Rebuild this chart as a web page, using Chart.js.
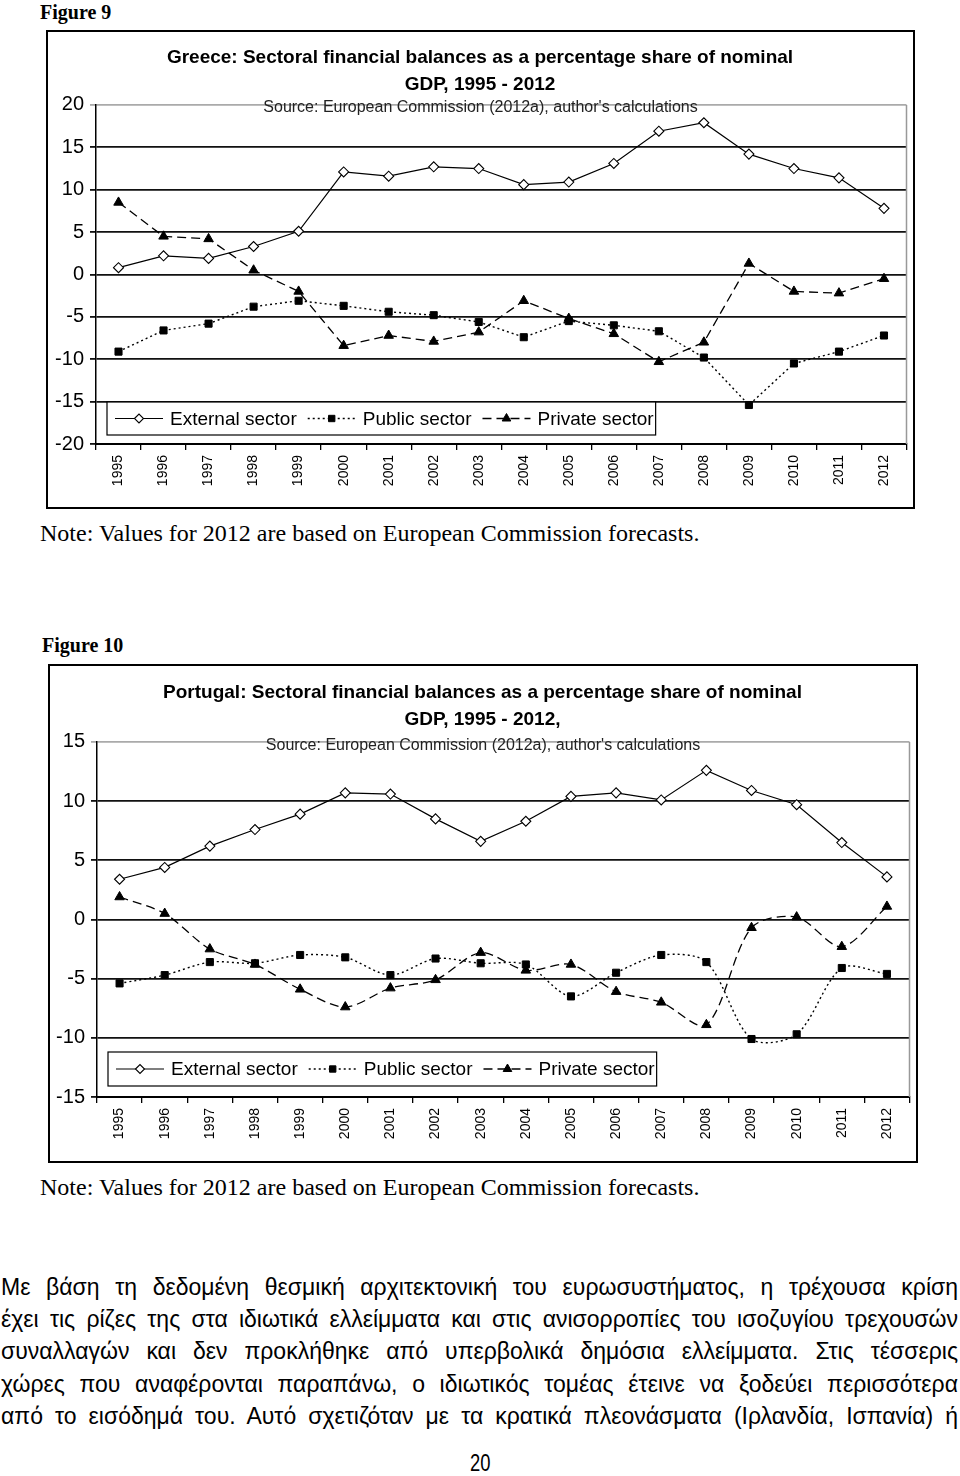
<!DOCTYPE html>
<html>
<head>
<meta charset="utf-8">
<script src="https://cdn.jsdelivr.net/npm/chart.js@4.4.0/dist/chart.umd.min.js"></script>
<style>
    body { margin: 0; width: 960px; height: 1476px; background: #fff; position: relative; overflow: hidden; }
    .fig { position: absolute; font-family: "Liberation Serif", "Times New Roman", serif; font-weight: bold; font-size: 20px; line-height: 24px; }
    .box { position: absolute; border: 2px solid #000; }
    .box canvas { display: block; }
    .note { position: absolute; font-family: "Liberation Serif", "Times New Roman", serif; font-size: 24px; line-height: 26px; white-space: nowrap; }
    .line { position: absolute; left: 1px; white-space: nowrap; font-family: "Liberation Sans", Arial, sans-serif; font-size: 23px; line-height: 26px; transform-origin: left center; }
    .page { position: absolute; left: 470px; font-family: "Liberation Sans", Arial, sans-serif; font-size: 23px; line-height: 26px; transform: scaleX(0.8); transform-origin: left center; }
</style>
</head>
<body>

<div class="fig" style="left:40px; top:0px;">Figure 9</div>
<div class="box" style="left:46px; top:30px; width:865px; height:475px;">
    <canvas id="greeceChart"></canvas>
</div>
<div class="note" style="left:40px; top:520px;">Note: Values for 2012 are based on European Commission forecasts.</div>

<div class="fig" style="left:42px; top:633px;">Figure 10</div>
<div class="box" style="left:48px; top:664px; width:866px; height:495px;">
    <canvas id="portugalChart"></canvas>
</div>
<div class="note" style="left:40px; top:1174px;">Note: Values for 2012 are based on European Commission forecasts.</div>

<div class="line" style="top:1274px;">Με βάση τη δεδομένη θεσμική αρχιτεκτονική του ευρωσυστήματος, η τρέχουσα κρίση</div>
<div class="line" style="top:1306px;">έχει τις ρίζες της στα ιδιωτικά ελλείμματα και στις ανισορροπίες του ισοζυγίου τρεχουσών</div>
<div class="line" style="top:1338px;">συναλλαγών και δεν προκλήθηκε από υπερβολικά δημόσια ελλείμματα. Στις τέσσερις</div>
<div class="line" style="top:1371px;">χώρες που αναφέρονται παραπάνω, ο ιδιωτικός τομέας έτεινε να ξοδεύει περισσότερα</div>
<div class="line" style="top:1403px;">από το εισόδημά του. Αυτό σχετιζόταν με τα κρατικά πλεονάσματα (Ιρλανδία, Ισπανία) ή</div>
<div class="page" style="top:1450px;">20</div>

<script>
// Data
const years = ['1995', '1996', '1997', '1998', '1999', '2000', '2001', '2002', '2003',
    '2004', '2005', '2006', '2007', '2008', '2009', '2010', '2011', '2012'];

const greeceExternal = [0.8, 2.2, 1.9, 3.3, 5.1, 12.1, 11.6, 12.7, 12.5, 10.6, 10.9, 13.1, 16.9, 17.9, 14.2, 12.5, 11.4, 7.8];
const greecePublic = [-9.1, -6.6, -5.8, -3.8, -3.1, -3.7, -4.4, -4.8, -5.6, -7.4, -5.5, -6.0, -6.7, -9.8, -15.4, -10.5, -9.1, -7.2];
const greecePrivate = [8.5, 4.5, 4.2, 0.5, -2.0, -8.4, -7.2, -7.9, -6.8, -3.1, -5.2, -7.0, -10.3, -8.0, 1.3, -2.0, -2.2, -0.5];
const greeceTicks = [-20, -15, -10, -5, 0, 5, 10, 15, 20];

const portugalExternal = [3.4, 4.4, 6.2, 7.6, 8.9, 10.7, 10.6, 8.5, 6.6, 8.3, 10.4, 10.7, 10.1, 12.6, 10.9, 9.7, 6.5, 3.6];
const portugalPublic = [-5.4, -4.7, -3.6, -3.7, -3.0, -3.2, -4.7, -3.3, -3.7, -3.8, -6.5, -4.5, -3.0, -3.6, -10.1, -9.7, -4.1, -4.6];
const portugalPrivate = [1.9, 0.5, -2.5, -3.8, -5.9, -7.4, -5.8, -5.1, -2.8, -4.3, -3.8, -6.1, -7.0, -8.9, -0.7, 0.2, -2.3, 1.1];
const portugalTicks = [-15, -10, -5, 0, 5, 10, 15];

const seriesNames = ['External sector', 'Public sector', 'Private sector'];
const sourceText = "Source: European Commission (2012a), author's calculations";

// Source line, right border and boxed legend inside the plot
const boxLegendPlugin = {
    id: 'boxLegend',
    afterDatasetsDraw(chart, args, opts) {
        const { ctx, chartArea } = chart;
        ctx.save();

        // gray right border of plot area
        ctx.strokeStyle = '#999';
        ctx.lineWidth = 1.5;
        ctx.beginPath();
        ctx.moveTo(chartArea.right, chartArea.top);
        ctx.lineTo(chartArea.right, chartArea.bottom);
        ctx.stroke();

        // source text
        ctx.fillStyle = '#222';
        ctx.font = '16px "Liberation Sans", Arial, sans-serif';
        ctx.textAlign = 'center';
        ctx.textBaseline = 'middle';
        ctx.fillText(sourceText, chart.width / 2, chartArea.top + opts.sourceOffset);

        // legend
        ctx.font = '19px "Liberation Sans", Arial, sans-serif';
        const sample = 48, gap = 7, sep = 11, padL = 8, padR = 2;
        const items = chart.data.datasets.map(ds => ({ ds, w: ctx.measureText(ds.label).width }));
        let total = padL + padR + sep * (items.length - 1);
        items.forEach(it => { total += sample + gap + it.w; });

        const x0 = chartArea.left + opts.left;
        const y1 = chartArea.bottom - opts.bottom;
        const y0 = y1 - opts.height;
        ctx.fillStyle = '#fff';
        ctx.fillRect(x0, y0, total, opts.height);
        ctx.strokeStyle = '#000';
        ctx.lineWidth = 1.2;
        ctx.setLineDash([]);
        ctx.strokeRect(x0, y0, total, opts.height);

        const cy = (y0 + y1) / 2;
        let x = x0 + padL;
        items.forEach(it => {
            const ds = it.ds;
            ctx.strokeStyle = '#000';
            ctx.lineWidth = ds.borderWidth;
            ctx.setLineDash(ds.borderDash || []);
            ctx.beginPath();
            ctx.moveTo(x, cy);
            ctx.lineTo(x + sample, cy);
            ctx.stroke();
            ctx.setLineDash([]);
            ctx.fillStyle = ds.pointBackgroundColor;
            ctx.strokeStyle = '#000';
            ctx.lineWidth = ds.pointBorderWidth;
            Chart.helpers.drawPoint(ctx, {
                pointStyle: ds.pointStyle,
                radius: ds.pointRadius - 0.5,
                rotation: 0,
                borderWidth: ds.pointBorderWidth
            }, x + sample / 2, cy);
            ctx.fillStyle = '#000';
            ctx.textAlign = 'left';
            ctx.textBaseline = 'middle';
            ctx.fillText(ds.label, x + sample + gap, cy + 1);
            x += sample + gap + it.w + sep;
        });
        ctx.restore();
    }
};

function makeDatasets(ext, pub, priv, smooth) {
    return [
        {
            label: seriesNames[0],
            data: ext,
            borderColor: '#000',
            borderWidth: 1.2,
            pointStyle: 'rectRot',
            pointRadius: 5,
            pointBackgroundColor: '#fff',
            pointBorderColor: '#000',
            pointBorderWidth: 1.1,
            tension: 0
        },
        {
            label: seriesNames[1],
            data: pub,
            borderColor: '#000',
            borderWidth: 1.4,
            borderDash: [2, 3],
            pointStyle: 'rect',
            pointRadius: 5,
            pointBackgroundColor: '#000',
            pointBorderColor: '#000',
            pointBorderWidth: 1,
            tension: smooth
        },
        {
            label: seriesNames[2],
            data: priv,
            borderColor: '#000',
            borderWidth: 1.3,
            borderDash: [9, 5],
            pointStyle: 'triangle',
            pointRadius: 5.5,
            pointBackgroundColor: '#000',
            pointBorderColor: '#000',
            pointBorderWidth: 1,
            tension: smooth
        }
    ];
}

function makeChart(id, w, h, opts) {
    const canvas = document.getElementById(id);
    canvas.width = w;
    canvas.height = h;
    const minV = opts.ticks[0];
    const maxV = opts.ticks[opts.ticks.length - 1];

    return new Chart(canvas, {
        type: 'line',
        data: {
            labels: years,
            datasets: makeDatasets(opts.ext, opts.pub, opts.priv, opts.smooth)
        },
        plugins: [boxLegendPlugin],
        options: {
            responsive: false,
            animation: false,
            layout: {
                padding: { top: 0, left: 0, right: 1, bottom: 0 }
            },
            plugins: {
                legend: { display: false },
                tooltip: { enabled: false },
                title: {
                    display: true,
                    text: opts.title,
                    color: '#000',
                    font: { family: '"Liberation Sans", Arial, sans-serif', size: 19, weight: 'bold', lineHeight: 1.42 },
                    padding: opts.titlePadding
                },
                boxLegend: opts.legend
            },
            scales: {
                x: {
                    offset: true,
                    grid: {
                        offset: true,
                        drawOnChartArea: false,
                        drawTicks: true,
                        tickLength: 6,
                        color: '#000',
                        lineWidth: 1.3
                    },
                    border: { color: '#000', width: 2 },
                    ticks: {
                        autoSkip: false,
                        minRotation: 90,
                        maxRotation: 90,
                        padding: 5,
                        color: '#000',
                        font: { family: '"Liberation Sans", Arial, sans-serif', size: 14 }
                    },
                    afterFit: scale => { scale.height = opts.xHeight; }
                },
                y: {
                    min: minV,
                    max: maxV,
                    afterBuildTicks: scale => { scale.ticks = opts.ticks.map(v => ({ value: v })); },
                    grid: {
                        drawTicks: true,
                        tickLength: 6,
                        color: ctx => (ctx.tick && ctx.tick.value === maxV) ? '#aaa' : '#111',
                        lineWidth: 1.8
                    },
                    border: { color: '#000', width: 1.5 },
                    ticks: {
                        padding: 6,
                        color: '#000',
                        font: { family: '"Liberation Sans", Arial, sans-serif', size: 20 }
                    },
                    afterFit: scale => { scale.width = opts.yWidth; }
                }
            }
        }
    });
}

document.addEventListener("DOMContentLoaded", () => {
    makeChart('greeceChart', 865, 475, {
        ext: greeceExternal,
        pub: greecePublic,
        priv: greecePrivate,
        smooth: 0,
        ticks: greeceTicks,
        title: ['Greece: Sectoral financial balances as a percentage share of nominal', 'GDP, 1995 - 2012'],
        titlePadding: { top: 12, bottom: 7 },
        xHeight: 63,
        yWidth: 48,
        legend: { left: 11, bottom: 9, height: 33, sourceOffset: 3 }
    });

    makeChart('portugalChart', 866, 495, {
        ext: portugalExternal,
        pub: portugalPublic,
        priv: portugalPrivate,
        smooth: 0.3,
        ticks: portugalTicks,
        title: ['Portugal: Sectoral financial balances as a percentage share of nominal', 'GDP, 1995 - 2012,'],
        titlePadding: { top: 13, bottom: 9 },
        xHeight: 64,
        yWidth: 47,
        legend: { left: 11, bottom: 11, height: 34, sourceOffset: 4 }
    });

    // Condense the paragraph evenly, then justify each line to the page width
    const target = 957;
    const lines = Array.from(document.querySelectorAll('.line'));
    const widths = lines.map(el => el.getBoundingClientRect().width);
    const s = Math.min(1, (target - 4) / Math.max(...widths));
    lines.forEach((el, i) => {
        const spaces = (el.textContent.match(/ /g) || []).length;
        el.style.transform = 'scaleX(' + s + ')';
        el.style.wordSpacing = ((target / s - widths[i]) / spaces) + 'px';
    });
});
</script>
</body>
</html>
